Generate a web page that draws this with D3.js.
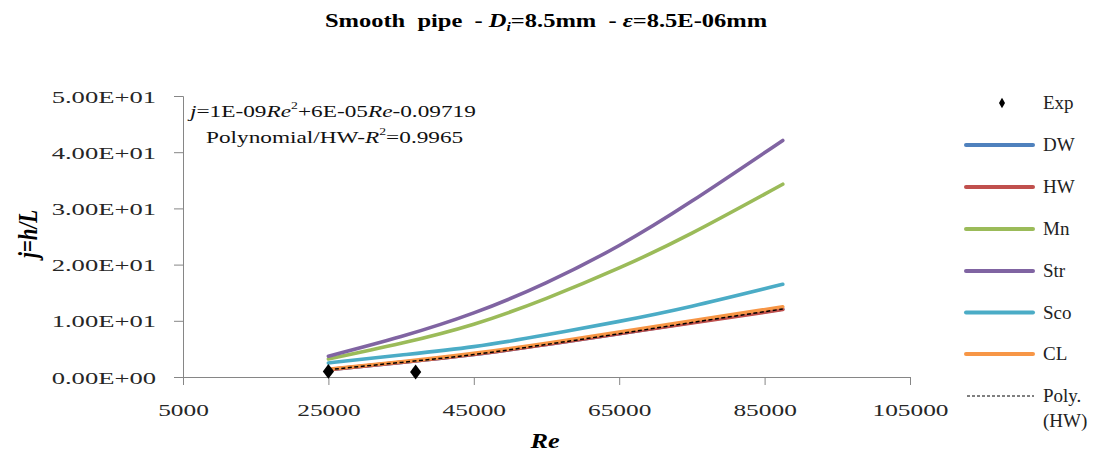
<!DOCTYPE html>
<html>
<head>
<meta charset="utf-8">
<script src="https://cdn.jsdelivr.net/npm/d3@7"></script>
<style>
  body { margin: 0; background: #fff; }
  text { font-family: "Liberation Serif", "Times New Roman", serif; }
</style>
</head>
<body>
<div class="canvas"></div>
<script>
var width = 1097, height = 457;

// data
var re     = [25000, 35000, 45000, 55000, 65000, 75000, 87500];
var dw     = [1.3, 2.6, 4.0, 5.8, 7.7, 9.7, 12.1];
var hw     = [1.3, 2.6, 4.0, 5.8, 7.7, 9.6, 12.0];
var mn     = [3.2, 6.0, 9.4, 14.0, 19.4, 25.6, 34.3];
var str    = [3.7, 7.2, 11.4, 16.8, 23.4, 31.3, 42.1];
var sco    = [2.5, 3.9, 5.4, 7.5, 9.9, 12.6, 16.5];
var cl     = [1.4, 2.7, 4.2, 6.0, 8.0, 10.0, 12.5];
var polyHW = [1.3, 2.6, 4.0, 5.8, 7.7, 9.7, 12.1];
var expRe  = [25000, 37000];
var expJ   = [1.0, 0.9];

var xTicks = [5000, 25000, 45000, 65000, 85000, 105000];
var yTicks = [0, 10, 20, 30, 40, 50];
var yTickLabels = ["0.00E+00", "1.00E+01", "2.00E+01", "3.00E+01", "4.00E+01", "5.00E+01"];

var series = [
  {name: "DW",  values: dw,  color: "#4F81BD"},
  {name: "HW",  values: hw,  color: "#C0504D"},
  {name: "Mn",  values: mn,  color: "#9BBB59"},
  {name: "Str", values: str, color: "#8064A2"},
  {name: "Sco", values: sco, color: "#4BACC6"},
  {name: "CL",  values: cl,  color: "#F79646"}
];

var svg = d3.select(".canvas").append("svg")
    .attr("width", width)
    .attr("height", height);

var x = d3.scaleLinear().domain([5000, 105000]).range([183, 910]);
var y = d3.scaleLinear().domain([0, 50]).range([377, 96]);

// the picture is stretched sideways, so text gets squeezed back out
function stretch(sel, sx, extra) {
  sel.each(function() {
    var t = d3.select(this);
    var tx = +t.attr("x"), ty = +t.attr("y");
    t.attr("x", 0).attr("y", 0)
      .attr("transform", "translate(" + tx + "," + ty + ") scale(" + sx + ",1)" + (extra || ""));
  });
}

// title
var title = svg.append("text")
    .attr("x", 546).attr("y", 27)
    .attr("text-anchor", "middle")
    .style("font-size", "19px").style("font-weight", "bold");
title.append("tspan").text("Smooth\u00a0\u00a0pipe\u00a0 - ");
title.append("tspan").style("font-style", "italic").text("D");
title.append("tspan").style("font-style", "italic").style("font-size", "12px").attr("dy", 4).text("i");
title.append("tspan").attr("dy", -4).text("=8.5mm\u00a0 - ");
title.append("tspan").style("font-style", "italic").text("\u03b5");
title.append("tspan").text("=8.5E-06mm");
stretch(title, 1.29);

// axes
var axisColor = "#868686";
var gy = svg.append("g").attr("transform", "translate(183,0)")
    .call(d3.axisLeft(y).tickValues(yTicks).tickSize(9).tickFormat(function(d, i) { return yTickLabels[i]; }));
var gx = svg.append("g").attr("transform", "translate(0,377)")
    .call(d3.axisBottom(x).tickValues(xTicks).tickSize(8).tickFormat(d3.format("d")));
[gx, gy].forEach(function(g) {
  g.select(".domain").attr("stroke", axisColor);
  g.selectAll(".tick line").attr("stroke", axisColor);
  g.selectAll("text").attr("fill", "#262626")
    .style("font-family", "'Liberation Serif', serif").style("font-size", "17.5px");
});
gy.selectAll(".tick text")
    .attr("dy", null).attr("x", 0).attr("y", 0)
    .attr("transform", "translate(-27,6) scale(1.52,1)");
gx.selectAll(".tick text")
    .attr("dy", null).attr("y", 0)
    .attr("transform", "translate(0,39) scale(1.45,1)");

// axis titles
svg.append("text")
    .attr("text-anchor", "middle")
    .attr("transform", "translate(37,234) scale(1.25,1) rotate(-90)")
    .style("font-size", "21px").style("font-weight", "bold").style("font-style", "italic")
    .text("j=h/L");
var xt = svg.append("text")
    .attr("x", 545).attr("y", 448)
    .attr("text-anchor", "middle")
    .style("font-size", "21px").style("font-weight", "bold").style("font-style", "italic")
    .text("Re");
stretch(xt, 1.25);

// lines
var line = d3.line()
    .x(function(d, i) { return x(re[i]); })
    .y(function(d) { return y(d); })
    .curve(d3.curveNatural);

svg.selectAll(".series").data(series)
  .enter().append("path")
    .attr("class", "series")
    .attr("d", function(d) { return line(d.values); })
    .attr("fill", "none")
    .attr("stroke", function(d) { return d.color; })
    .attr("stroke-width", 3.6)
    .attr("stroke-linecap", "round");

svg.append("path")
    .attr("d", line(polyHW))
    .attr("fill", "none")
    .attr("stroke", "#000")
    .attr("stroke-width", 1.5)
    .attr("stroke-dasharray", "4,2.5");

// experimental points
var diamond = d3.symbol().type(d3.symbolDiamond);
svg.selectAll(".exp").data(expJ)
  .enter().append("path")
    .attr("class", "exp")
    .attr("transform", function(d, i) { return "translate(" + x(expRe[i]) + "," + y(d) + ") scale(1.3,1)"; })
    .attr("d", diamond.size(64))
    .attr("fill", "#000");

// annotation
var ann = svg.append("g");
var a1 = ann.append("text").attr("x", 190).attr("y", 117)
    .style("font-size", "17px").attr("fill", "#111");
a1.append("tspan").style("font-style", "italic").text("j");
a1.append("tspan").text("=1E-09");
a1.append("tspan").style("font-style", "italic").text("Re");
a1.append("tspan").attr("dy", -8).style("font-size", "10px").text("2");
a1.append("tspan").attr("dy", 8).text("+6E-05");
a1.append("tspan").style("font-style", "italic").text("Re");
a1.append("tspan").text("-0.09719");
stretch(a1, 1.37);
var a2 = ann.append("text").attr("x", 206).attr("y", 143)
    .style("font-size", "17px").attr("fill", "#111");
a2.append("tspan").text("Polynomial/HW-");
a2.append("tspan").style("font-style", "italic").text("R");
a2.append("tspan").attr("dy", -8).style("font-size", "10px").text("2");
a2.append("tspan").attr("dy", 8).text("=0.9965");
stretch(a2, 1.37);

// legend
var legendY = [103, 145, 187, 229, 271, 312.5, 354, 396];
var legend = svg.append("g");
legend.append("path")
    .attr("transform", "translate(1002," + legendY[0] + ")")
    .attr("d", d3.symbol().type(d3.symbolDiamond).size(32)())
    .attr("fill", "#000");
series.forEach(function(s, i) {
  legend.append("line")
    .attr("x1", 966).attr("x2", 1033)
    .attr("y1", legendY[i + 1]).attr("y2", legendY[i + 1])
    .attr("stroke", s.color).attr("stroke-width", 4).attr("stroke-linecap", "round");
});
legend.append("line")
    .attr("x1", 967).attr("x2", 1034)
    .attr("y1", legendY[7]).attr("y2", legendY[7])
    .attr("stroke", "#000").attr("stroke-width", 1).attr("stroke-dasharray", "3,2");
var labels = ["Exp"].concat(series.map(function(s) { return s.name; })).concat(["Poly."]);
legend.selectAll(".lbl").data(labels)
  .enter().append("text")
    .attr("class", "lbl")
    .attr("x", 1043)
    .attr("y", function(d, i) { return legendY[i] + 6; })
    .style("font-size", "19px").attr("fill", "#222")
    .text(function(d) { return d; });
legend.append("text")
    .attr("x", 1043).attr("y", legendY[7] + 31)
    .style("font-size", "19px").attr("fill", "#222")
    .text("(HW)");
</script>
</body>
</html>
